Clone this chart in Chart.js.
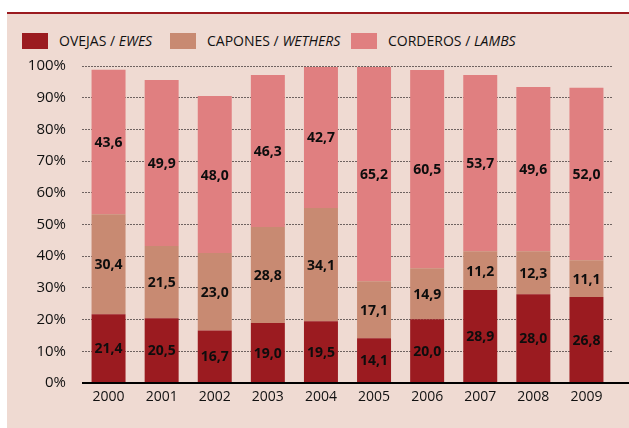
<!DOCTYPE html>
<html>
<head>
<meta charset="utf-8">
<script src="https://cdn.jsdelivr.net/npm/chart.js@4/dist/chart.umd.min.js"></script>
<style>
  html, body { margin: 0; padding: 0; background: #ffffff; width: 629px; height: 428px; overflow: hidden; }
  #redline { position: absolute; left: 7px; top: 12px; width: 622px; height: 2px; background: #9b1b20; }
  #panel { position: absolute; left: 7px; top: 14px; width: 622px; height: 414px; background: #efdad2; }
  #wrap { position: absolute; left: 0; top: 0; width: 629px; height: 428px; }
  .leg { position: absolute; top: 33px; height: 16px; font-family: 'Open Sans', sans-serif; font-size: 14px; color: #111111; line-height: 16px; white-space: nowrap; }
  .box { position: absolute; top: 33px; width: 26px; height: 16px; }
  .leg i { font-style: italic; }
</style>
</head>
<body>
<div id="redline"></div>
<div id="panel"></div>
<div class="box" style="left:22px;background:#9b1b20"></div>
<div class="leg" style="left:59px">OVEJAS / <i>EWES</i></div>
<div class="box" style="left:170px;background:#c88a72"></div>
<div class="leg" style="left:207px">CAPONES / <i>WETHERS</i></div>
<div class="box" style="left:351px;background:#e07f80"></div>
<div class="leg" style="left:388px">CORDEROS / <i>LAMBS</i></div>
<div id="wrap"><canvas id="c" width="629" height="428"></canvas></div>
<script>
// Categories
const years = ['2000','2001','2002','2003','2004','2005','2006','2007','2008','2009'];
// Bar heights as drawn in the picture (%)
const ewes    = [21.7, 20.4, 16.6, 18.9, 19.5, 14.1, 20.1, 29.3, 28.0, 27.1];
const wethers = [31.5, 22.8, 24.4, 30.3, 35.7, 18.0, 16.1, 12.3, 13.6, 11.6];
const lambs   = [45.6, 52.4, 49.5, 48.0, 44.5, 67.6, 62.5, 55.6, 51.8, 54.4];
// Printed value labels
const ewesLabels    = [21.4, 20.5, 16.7, 19.0, 19.5, 14.1, 20.0, 28.9, 28.0, 26.8];
const wethersLabels = [30.4, 21.5, 23.0, 28.8, 34.1, 17.1, 14.9, 11.2, 12.3, 11.1];
const lambsLabels   = [43.6, 49.9, 48.0, 46.3, 42.7, 65.2, 60.5, 53.7, 49.6, 52.0];
// Y tick values
const yTicks = [0, 10, 20, 30, 40, 50, 60, 70, 80, 90, 100];

const labelSets = [ewesLabels, wethersLabels, lambsLabels];

const valueLabels = {
  id: 'valueLabels',
  afterDatasetsDraw(chart) {
    const ctx = chart.ctx;
    ctx.save();
    ctx.font = 'bold 14px "Open Sans", sans-serif';
    ctx.fillStyle = '#0d0d0d';
    ctx.textAlign = 'center';
    ctx.textBaseline = 'middle';
    chart.data.datasets.forEach((ds, di) => {
      const meta = chart.getDatasetMeta(di);
      meta.data.forEach((bar, i) => {
        const p = bar.getProps(['x', 'y', 'base'], true);
        const txt = labelSets[di][i].toFixed(1).replace('.', ',');
        ctx.fillText(txt, p.x, (p.y + p.base) / 2 + 1);
      });
    });
    ctx.restore();
  }
};

const baseLine = {
  id: 'baseLine',
  afterDatasetsDraw(chart) {
    const ctx = chart.ctx;
    const y = chart.scales.y.getPixelForValue(0);
    ctx.save();
    ctx.strokeStyle = '#000000';
    ctx.lineWidth = 2;
    ctx.beginPath();
    ctx.moveTo(chart.chartArea.left, y);
    ctx.lineTo(chart.width, y);
    ctx.stroke();
    ctx.restore();
  }
};

new Chart(document.getElementById('c'), {
  type: 'bar',
  data: {
    labels: years,
    datasets: [
      { label: 'OVEJAS / EWES', data: ewes, backgroundColor: '#9b1b20' },
      { label: 'CAPONES / WETHERS', data: wethers, backgroundColor: '#c88a72' },
      { label: 'CORDEROS / LAMBS', data: lambs, backgroundColor: '#e07f80' }
    ]
  },
  options: {
    responsive: false,
    animation: false,
    devicePixelRatio: 1,
    layout: { padding: { top: 66, right: 16, left: 0, bottom: 0 } },
    datasets: { bar: { categoryPercentage: 1.0, barPercentage: 0.64, borderWidth: 0 } },
    plugins: { legend: { display: false }, tooltip: { enabled: false } },
    scales: {
      x: {
        stacked: true,
        grid: { display: false, drawTicks: false },
        border: { display: false },
        ticks: { color: '#111111', font: { family: "'Open Sans', sans-serif", size: 14 }, padding: 6, maxRotation: 0 },
        afterFit(axis) { axis.height = 45; }
      },
      y: {
        stacked: true,
        min: 0, max: 100,
        afterBuildTicks(axis) { axis.ticks = yTicks.map(v => ({ value: v })); },
        grid: {
          drawTicks: false,
          color: ctx => ctx.tick && ctx.tick.value === 0 ? 'rgba(0,0,0,0)' : '#6e6260',
          lineWidth: 1
        },
        border: { display: false, dash: [2, 1] },
        ticks: {
          color: '#111111',
          font: { family: "'Open Sans', sans-serif", size: 15 },
          padding: 16,
          callback: v => v + '%'
        },
        afterFit(axis) { axis.width = 82; }
      }
    }
  },
  plugins: [valueLabels, baseLine]
});
</script>
</body>
</html>
